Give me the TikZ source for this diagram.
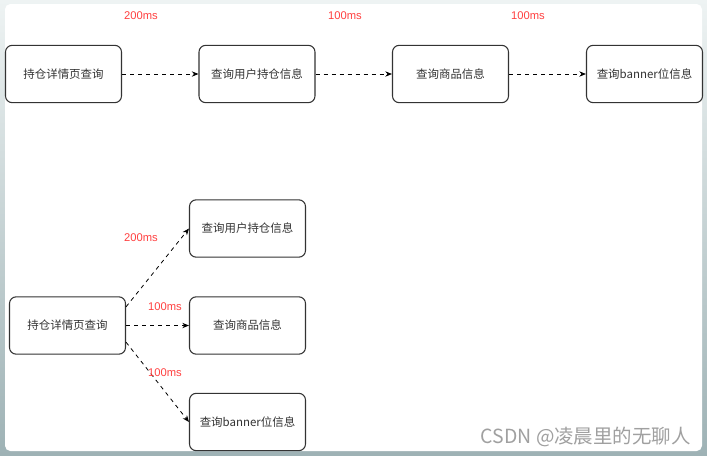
\documentclass[tikz,border=0pt]{standalone}
\usepackage{fontspec}
\setmainfont{Liberation Sans}
\newfontfamily\cjk{Noto Sans CJK SC}
\usetikzlibrary{arrows.meta}
\definecolor{msred}{RGB}{255,64,64}
\definecolor{boxline}{RGB}{51,51,51}
\definecolor{shadowtop}{RGB}{238,243,243}
\definecolor{shadowbot}{RGB}{158,178,181}
\definecolor{markgray}{RGB}{160,160,160}
\begin{document}
\begin{tikzpicture}[x=0.75pt,y=-0.75pt,
  qbox/.style={draw=boxline, line width=0.8pt, rounded corners=5pt, fill=white,
    minimum width=87pt, minimum height=43pt, inner sep=0pt,
    font=\cjk\fontsize{8.6}{10}\selectfont, text=boxline},
  mslabel/.style={font=\fontsize{8.4}{10}\selectfont, text=msred, inner sep=0pt},
  dashlink/.style={-{Stealth[length=5pt,width=4pt]}, dashed, line width=0.6pt, black}]
\useasboundingbox (0,0) rectangle (707,455);
\shade[top color=shadowtop, bottom color=shadowbot] (0,0) rectangle (707,455);
\fill[white, rounded corners=4pt] (5,4) rectangle (702,451);
% serial calls
\node [qbox] (s1) at (63.5,74) {持仓详情页查询};
\node [qbox] (s2) at (257,74) {查询用户持仓信息};
\node [qbox] (s3) at (450.5,74) {查询商品信息};
\node [qbox] (s4) at (644.5,74) {查询banner位信息};
\draw [dashlink] (s1.east) -- (s2.west);
\draw [dashlink] (s2.east) -- (s3.west);
\draw [dashlink] (s3.east) -- (s4.west);
\node [mslabel] (t1) at (141,16) {200ms};
\node [mslabel] (t2) at (345,16) {100ms};
\node [mslabel] (t3) at (528,16) {100ms};
% parallel calls
\node [qbox] (p0) at (67.5,325.5) {持仓详情页查询};
\node [qbox] (p1) at (247.5,228.5) {查询用户持仓信息};
\node [qbox] (p2) at (247.5,325.5) {查询商品信息};
\node [qbox] (p3) at (247.5,422) {查询banner位信息};
\draw [dashlink] ([yshift=14pt]p0.east) -- (p1.west);
\draw [dashlink] (p0.east) -- (p2.west);
\draw [dashlink] ([yshift=-12.5pt]p0.east) -- (p3.west);
\node [mslabel] (b1) at (141,238) {200ms};
\node [mslabel] (b2) at (165,307) {100ms};
\node [mslabel] (b3) at (165,373) {100ms};
% watermark
\node [anchor=east, inner sep=0pt, text=markgray, font=\cjk\fontsize{14.6}{18}\selectfont] (mark) at (691,437) {CSDN @凌晨里的无聊人};
\end{tikzpicture}
\end{document}
